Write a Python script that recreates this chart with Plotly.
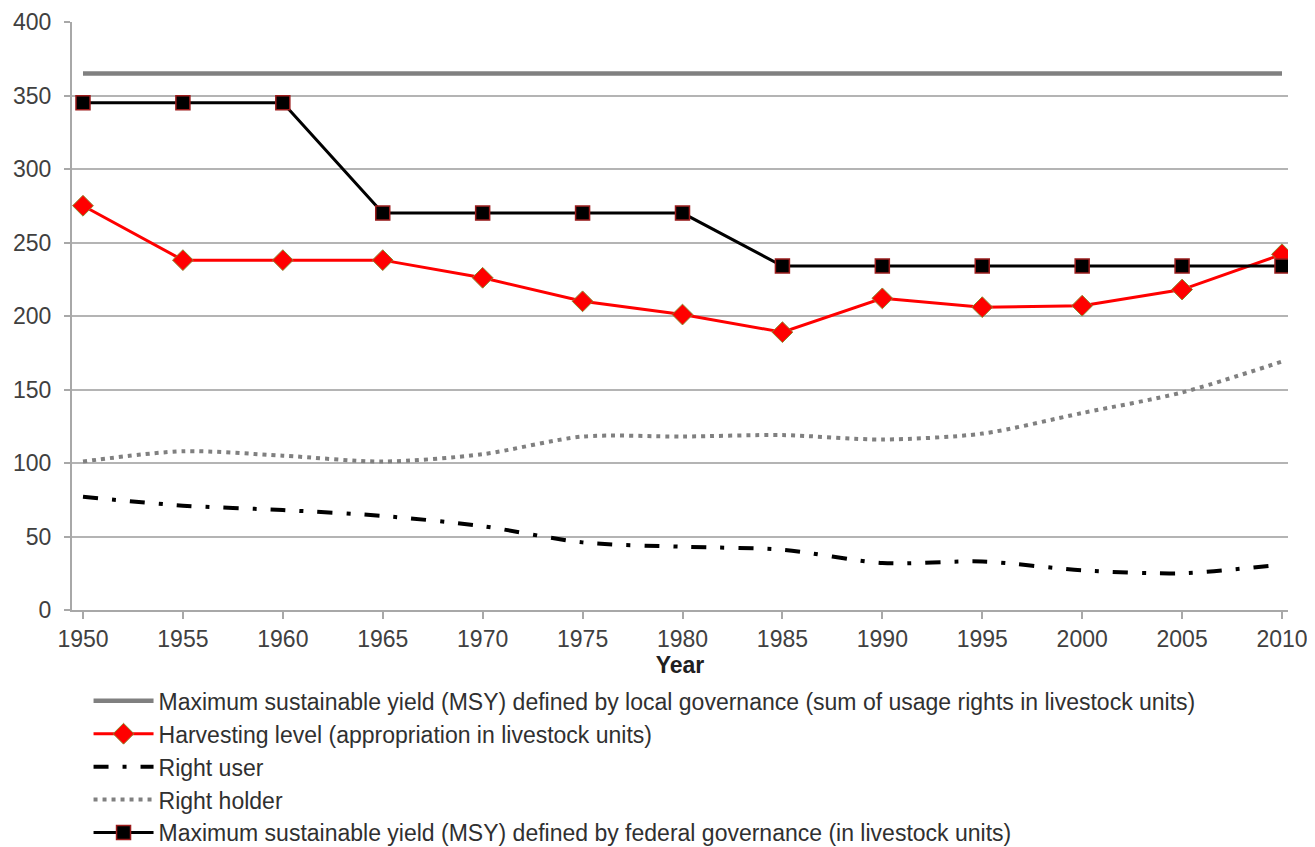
import plotly.graph_objects as go

years = [1950, 1955, 1960, 1965, 1970, 1975, 1980, 1985, 1990, 1995, 2000, 2005, 2010]
msy_local = [365] * 13
harvest = [275, 238, 238, 238, 226, 210, 201, 189, 212, 206, 207, 218, 242]
right_user = [77, 71, 68, 64, 57, 46, 43, 41, 32, 33, 27, 25, 31]
right_holder = [101, 108, 105, 101, 106, 118, 118, 119, 116, 120, 134, 148, 169]
msy_federal = [345, 345, 345, 270, 270, 270, 270, 234, 234, 234, 234, 234, 234]
y_ticks = [0, 50, 100, 150, 200, 250, 300, 350, 400]

names = [
    "Maximum sustainable yield (MSY) defined by local governance (sum of usage rights in livestock units)",
    "Harvesting level (appropriation in livestock units)",
    "Right user",
    "Right holder",
    "Maximum sustainable yield (MSY) defined by federal governance (in livestock units)",
]

FONT = "Liberation Sans, Arial, sans-serif"
TXT = "#404040"

fig = go.Figure()
fig.add_trace(go.Scatter(x=years, y=msy_local, mode="lines", name=names[0],
                         line=dict(color="#808080", width=4.5)))
fig.add_trace(go.Scatter(x=years, y=harvest, mode="lines+markers", name=names[1],
                         line=dict(color="#ff0000", width=3),
                         marker=dict(symbol="diamond", size=16, color="#ff0000",
                                     line=dict(color="#8a8a30", width=1))))
fig.add_trace(go.Scatter(x=years, y=right_user, mode="lines", name=names[2],
                         line=dict(color="#000000", width=4, dash="15px,14px,4px,14px",
                                   shape="spline", smoothing=0.8)))
fig.add_trace(go.Scatter(x=years, y=right_holder, mode="lines", name=names[3],
                         line=dict(color="#808080", width=4, dash="4px,5px",
                                   shape="spline", smoothing=0.8)))
fig.add_trace(go.Scatter(x=years, y=msy_federal, mode="lines+markers", name=names[4],
                         line=dict(color="#000000", width=3),
                         marker=dict(symbol="square", size=14, color="#000000",
                                     line=dict(color="#9b1c1c", width=1.5))))

fig.update_layout(
    width=1315, height=847,
    margin=dict(l=64, r=35, t=14, b=245, autoexpand=False),
    paper_bgcolor="white", plot_bgcolor="white",
    font=dict(family=FONT, size=22, color=TXT),
    showlegend=True,
    legend=dict(orientation="v", x=0.0136, xanchor="left", y=-0.118, yanchor="top",
                font=dict(family=FONT, size=23, color="#303030"),
                bgcolor="rgba(0,0,0,0)", itemwidth=60, traceorder="normal"),
    xaxis=dict(range=[1949.45, 2010.3], tickvals=years, ticktext=[str(y) for y in years],
               showgrid=False, showline=True, linecolor="#a8a8a8", linewidth=2,
               ticks="outside", ticklen=7, tickcolor="#a8a8a8", tickwidth=2,
               tickfont=dict(size=23, color=TXT), zeroline=False, automargin=False,
               title=dict(text="<b>Year</b>", font=dict(size=23, color="#202020"), standoff=6)),
    yaxis=dict(range=[0, 400], tickvals=y_ticks, showgrid=True, gridcolor="#b4b4b4", gridwidth=1.5,
               showline=True, linecolor="#a8a8a8", linewidth=2, zeroline=False,
               ticks="outside", ticklen=6, tickcolor="#a8a8a8", tickwidth=2,
               ticklabelstandoff=8, automargin=False,
               tickfont=dict(size=23, color=TXT)),
)

fig.write_html("out.html")
